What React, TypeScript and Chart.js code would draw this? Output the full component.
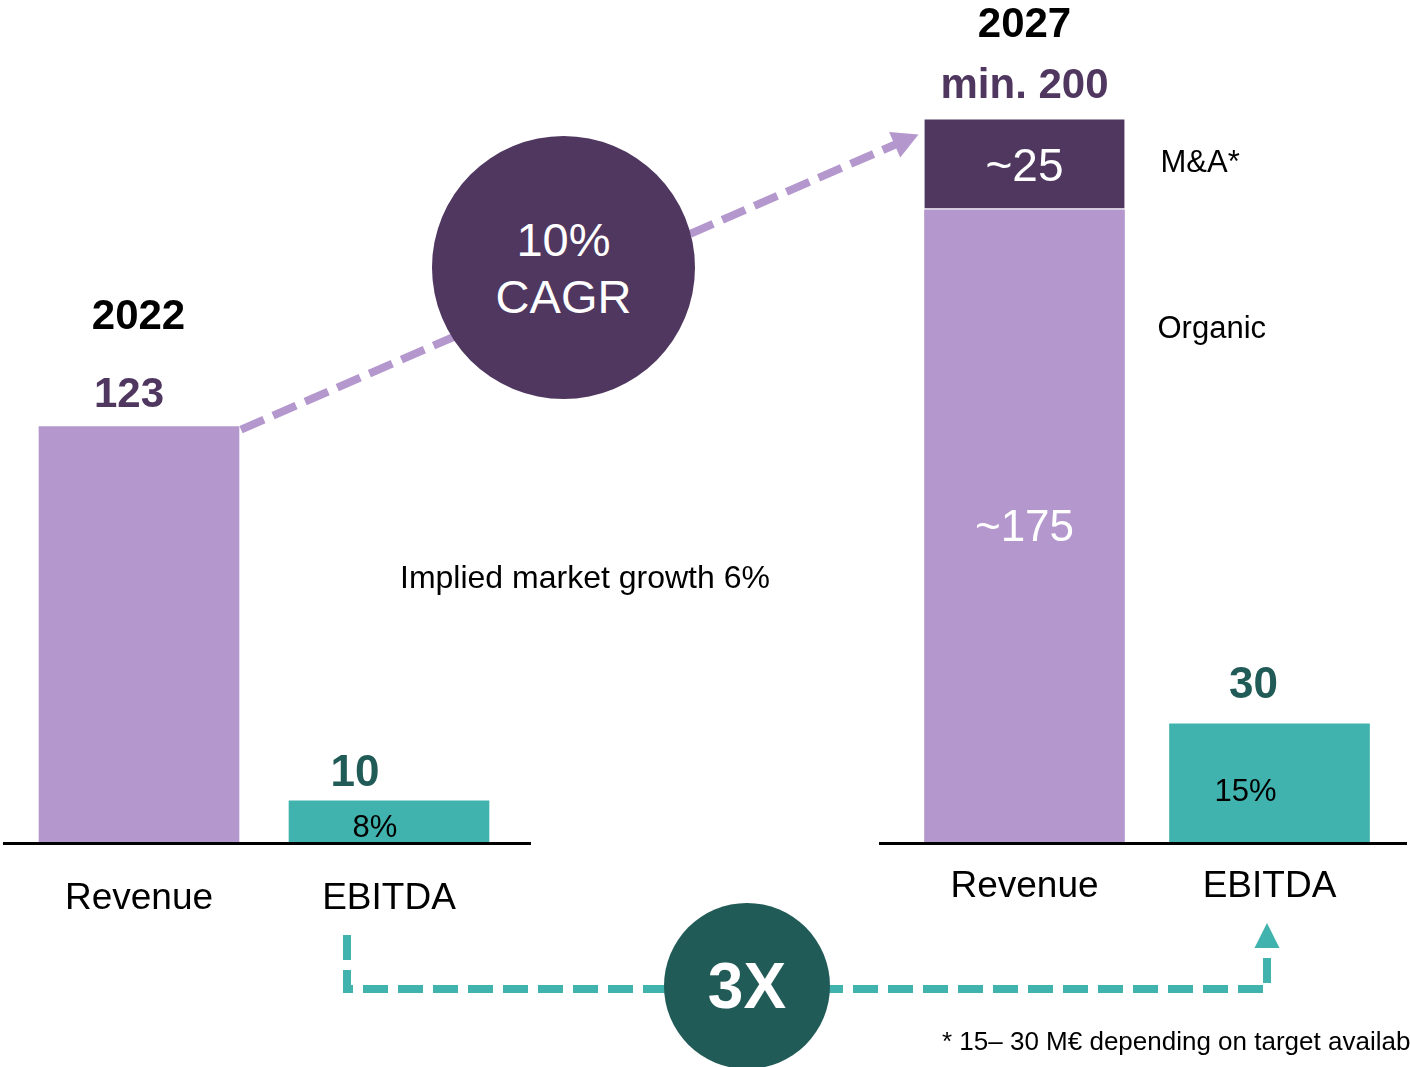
import React, { useEffect, useRef } from 'react';
import { Chart, registerables } from 'chart.js';

Chart.register(...registerables);

const FONT = '"Liberation Sans", Arial, Helvetica, sans-serif';

// ---- data ----
const categories = ['Revenue', 'EBITDA'];
const years = ['2022', '2027'];
const revenue2022: (number | null)[] = [123, null];
const ebitda2022: (number | null)[] = [null, 10];
const organic2027: (number | null)[] = [175, null];
const mna2027: (number | null)[] = [25, null];
const ebitda2027: (number | null)[] = [null, 30];
const ebitdaMargins = ['8%', '15%'];
const segmentNames = ['Organic', 'M&A*'];
const cagrLines = ['10%', 'CAGR'];
const multipleLabel = '3X';
const marketNote = 'Implied market growth 6%';
const footnote = '* 15– 30 M€ depending on target availability';

// ---- axis ranges (each panel has its own hidden value axes) ----
const leftRevenueMax = 249;
const leftEbitdaMax = 200;
const rightRevenueMax = 233;
const rightEbitdaMax = 212;

// ---- style ----
const LIGHT_PURPLE = '#B497CD';
const DARK_PURPLE = '#4F3760';
const TEAL = '#41B3AE';
const DARK_TEAL = '#215B57';

const PAGE_W = 1410;
const PAGE_H = 1067;
const BASELINE_Y = 843;
const CANVAS_W = 545;
const RIGHT_OFFSET = 865;
const TICK_SIZE = 37;

function txt(ctx: CanvasRenderingContext2D, s: string, x: number, y: number, size: number, weight: string, color: string, align: CanvasTextAlign = 'center') {
  ctx.font = `${weight} ${size}px ${FONT}`;
  ctx.fillStyle = color;
  ctx.textAlign = align;
  ctx.textBaseline = 'middle';
  ctx.fillText(s, x, y + size * 0.08);
}

function makeOptions(tickPad: number, padLeft: number, padRight: number, revMax: number, ebMax: number): any {
  const axisH = TICK_SIZE * 1.2 + tickPad * 2;
  return {
    responsive: false,
    animation: false,
    devicePixelRatio: 1,
    layout: { padding: { left: padLeft, right: padRight, top: 0, bottom: PAGE_H - BASELINE_Y - axisH } },
    plugins: { legend: { display: false }, tooltip: { enabled: false }, title: { display: false } },
    scales: {
      x: {
        type: 'category',
        offset: true,
        grid: { display: false, drawTicks: false },
        border: { display: false },
        ticks: { color: '#000', font: { size: TICK_SIZE, family: FONT }, padding: tickPad, maxRotation: 0, autoSkip: false },
      },
      y: { display: false, min: 0, max: revMax, stacked: true },
      y1: { display: false, min: 0, max: ebMax },
    },
  };
}

const leftLabels = {
  id: 'leftLabels',
  afterDatasetsDraw(chart: any) {
    const ctx: CanvasRenderingContext2D = chart.ctx;
    const rev = chart.getDatasetMeta(0).data[0];
    const eb = chart.getDatasetMeta(1).data[1];
    const { left, right, bottom } = chart.chartArea;
    ctx.save();
    ctx.fillStyle = '#000';
    ctx.fillRect(left - 11, bottom - 1, right - left + 28, 3);
    txt(ctx, years[0], rev.x - 0.5, rev.y - 113, 42, 'bold', '#000');
    txt(ctx, String(revenue2022[0]), rev.x - 10, rev.y - 35, 42, 'bold', DARK_PURPLE);
    txt(ctx, String(ebitda2022[1]), eb.x - 34, eb.y - 31, 44, 'bold', DARK_TEAL);
    txt(ctx, ebitdaMargins[0], eb.x - 14, eb.y + 25, 31, 'normal', '#000');
    ctx.restore();
  },
};

const rightLabels = {
  id: 'rightLabels',
  afterDatasetsDraw(chart: any) {
    const ctx: CanvasRenderingContext2D = chart.ctx;
    const org = chart.getDatasetMeta(0).data[0];
    const mna = chart.getDatasetMeta(1).data[0];
    const eb = chart.getDatasetMeta(2).data[1];
    const { left, right, bottom } = chart.chartArea;
    const total = (organic2027[0] as number) + (mna2027[0] as number);
    const mnaMid = (mna.y + mna.base) / 2;
    ctx.save();
    ctx.fillStyle = '#000';
    ctx.fillRect(left - 23, bottom - 1, right - left + 38, 3);
    txt(ctx, years[1], mna.x, mna.y - 97, 42, 'bold', '#000');
    txt(ctx, 'min. ' + total, mna.x, mna.y - 36, 42, 'bold', DARK_PURPLE);
    txt(ctx, '~' + mna2027[0], mna.x, mnaMid, 46, 'normal', '#fff');
    txt(ctx, '~' + organic2027[0], org.x, org.y + 315, 44, 'normal', '#fff');
    txt(ctx, segmentNames[1], mna.x + mna.width / 2 + 36, mnaMid - 4, 31, 'normal', '#000', 'left');
    txt(ctx, segmentNames[0], org.x + org.width / 2 + 33, org.y + 117, 31, 'normal', '#000', 'left');
    txt(ctx, String(ebitda2027[1]), eb.x - 16, eb.y - 41, 44, 'bold', DARK_TEAL);
    txt(ctx, ebitdaMargins[1], eb.x - 24, eb.y + 66, 31, 'normal', '#000');
    ctx.restore();
  },
};

function drawOverlay(canvas: HTMLCanvasElement, left: Chart, right: Chart) {
  const ctx = canvas.getContext('2d')!;
  ctx.clearRect(0, 0, canvas.width, canvas.height);
  const lRev: any = left.getDatasetMeta(0).data[0];
  const lEb: any = left.getDatasetMeta(1).data[1];
  const rMna: any = right.getDatasetMeta(1).data[0];
  const rEb: any = right.getDatasetMeta(2).data[1];

  // purple growth arrow
  const sx = lRev.x + lRev.width / 2 + 2;
  const sy = lRev.y + 3;
  const tx = RIGHT_OFFSET + rMna.x - rMna.width / 2 - 6;
  const ty = rMna.y + 15;
  const dx = tx - sx;
  const dy = ty - sy;
  const len = Math.hypot(dx, dy);
  const ux = dx / len;
  const uy = dy / len;
  const headLen = 26;
  const headHalf = 14;
  const bx = tx - ux * headLen;
  const by = ty - uy * headLen;
  ctx.save();
  ctx.strokeStyle = LIGHT_PURPLE;
  ctx.fillStyle = LIGHT_PURPLE;
  ctx.lineWidth = 8;
  ctx.setLineDash([25, 10]);
  ctx.beginPath();
  ctx.moveTo(sx, sy);
  ctx.lineTo(bx + ux * 2, by + uy * 2);
  ctx.stroke();
  ctx.setLineDash([]);
  ctx.beginPath();
  ctx.moveTo(tx, ty);
  ctx.lineTo(bx - uy * headHalf, by + ux * headHalf);
  ctx.lineTo(bx + uy * headHalf, by - ux * headHalf);
  ctx.closePath();
  ctx.fill();
  ctx.restore();

  // teal EBITDA multiple connector
  const x0 = lEb.x - 42;
  const y0 = lEb.base + 92;
  const yH = lEb.base + 146;
  const x1 = RIGHT_OFFSET + rEb.x - 2.5;
  const tipY = rEb.base + 80;
  const headBase = tipY + 25;
  ctx.save();
  ctx.strokeStyle = TEAL;
  ctx.fillStyle = TEAL;
  ctx.lineWidth = 8;
  ctx.lineJoin = 'miter';
  ctx.setLineDash([25, 10]);
  ctx.beginPath();
  ctx.moveTo(x0, y0);
  ctx.lineTo(x0, yH);
  ctx.lineTo(x1, yH);
  ctx.lineTo(x1, headBase);
  ctx.stroke();
  ctx.setLineDash([]);
  ctx.beginPath();
  ctx.moveTo(x1, tipY);
  ctx.lineTo(x1 - 12.5, headBase);
  ctx.lineTo(x1 + 12.5, headBase);
  ctx.closePath();
  ctx.fill();
  ctx.restore();
}

export default function App() {
  const leftRef = useRef<HTMLCanvasElement>(null);
  const rightRef = useRef<HTMLCanvasElement>(null);
  const overlayRef = useRef<HTMLCanvasElement>(null);

  useEffect(() => {
    Chart.defaults.font.family = FONT;
    const left = new Chart(leftRef.current!, {
      type: 'bar',
      data: {
        labels: categories,
        datasets: [
          { label: 'Revenue 2022', data: revenue2022, backgroundColor: LIGHT_PURPLE, yAxisID: 'y', barThickness: 200, grouped: false, borderWidth: 0 },
          { label: 'EBITDA 2022', data: ebitda2022, backgroundColor: TEAL, yAxisID: 'y1', barThickness: 200, grouped: false, borderWidth: 0 },
        ],
      } as any,
      options: makeOptions(34, 14, CANVAS_W - 514, leftRevenueMax, leftEbitdaMax),
      plugins: [leftLabels],
    });
    const right = new Chart(rightRef.current!, {
      type: 'bar',
      data: {
        labels: categories,
        datasets: [
          { label: 'Organic', data: organic2027, backgroundColor: LIGHT_PURPLE, yAxisID: 'y', stack: 'rev', barThickness: 200, grouped: false, borderWidth: 0 },
          {
            label: 'M&A', data: mna2027, backgroundColor: DARK_PURPLE, yAxisID: 'y', stack: 'rev', barThickness: 200, grouped: false,
            borderColor: '#ffffff', borderSkipped: false, borderWidth: { top: 0, left: 0, right: 0, bottom: 2 },
          },
          { label: 'EBITDA 2027', data: ebitda2027, backgroundColor: TEAL, yAxisID: 'y1', stack: 'eb', barThickness: 200, grouped: false, borderWidth: 0 },
        ],
      } as any,
      options: makeOptions(22, 902 - RIGHT_OFFSET, CANVAS_W - (1392 - RIGHT_OFFSET), rightRevenueMax, rightEbitdaMax),
      plugins: [rightLabels],
    });
    if (overlayRef.current) drawOverlay(overlayRef.current, left, right);
    return () => {
      left.destroy();
      right.destroy();
    };
  }, []);

  return (
    <div style={{ position: 'fixed', left: 0, top: 0, width: PAGE_W, height: PAGE_H, overflow: 'hidden', background: '#fff', fontFamily: FONT }}>
      <canvas ref={leftRef} width={CANVAS_W} height={PAGE_H} style={{ position: 'absolute', left: 0, top: 0, display: 'block' }} />
      <canvas ref={rightRef} width={CANVAS_W} height={PAGE_H} style={{ position: 'absolute', left: RIGHT_OFFSET, top: 0, display: 'block' }} />
      <canvas ref={overlayRef} width={PAGE_W} height={PAGE_H} style={{ position: 'absolute', left: 0, top: 0, display: 'block', pointerEvents: 'none' }} />
      <div style={{
        position: 'absolute', left: 432, top: 136, width: 263, height: 263, borderRadius: '50%', background: DARK_PURPLE,
        color: '#fff', display: 'flex', flexDirection: 'column', alignItems: 'center', justifyContent: 'center', fontSize: 47, lineHeight: '57px',
      }}>
        <div>{cagrLines[0]}</div>
        <div>{cagrLines[1]}</div>
      </div>
      <div style={{
        position: 'absolute', left: 664, top: 903, width: 166, height: 166, borderRadius: '50%', background: DARK_TEAL,
        color: '#fff', display: 'flex', alignItems: 'center', justifyContent: 'center', fontSize: 64, fontWeight: 'bold', lineHeight: 1,
      }}>
        {multipleLabel}
      </div>
      <div style={{ position: 'absolute', left: 400, top: 561, fontSize: 32, lineHeight: 1, color: '#000', whiteSpace: 'nowrap' }}>{marketNote}</div>
      <div style={{ position: 'absolute', left: 942, top: 1028, fontSize: 26, lineHeight: 1, color: '#000', whiteSpace: 'nowrap' }}>{footnote}</div>
    </div>
  );
}
